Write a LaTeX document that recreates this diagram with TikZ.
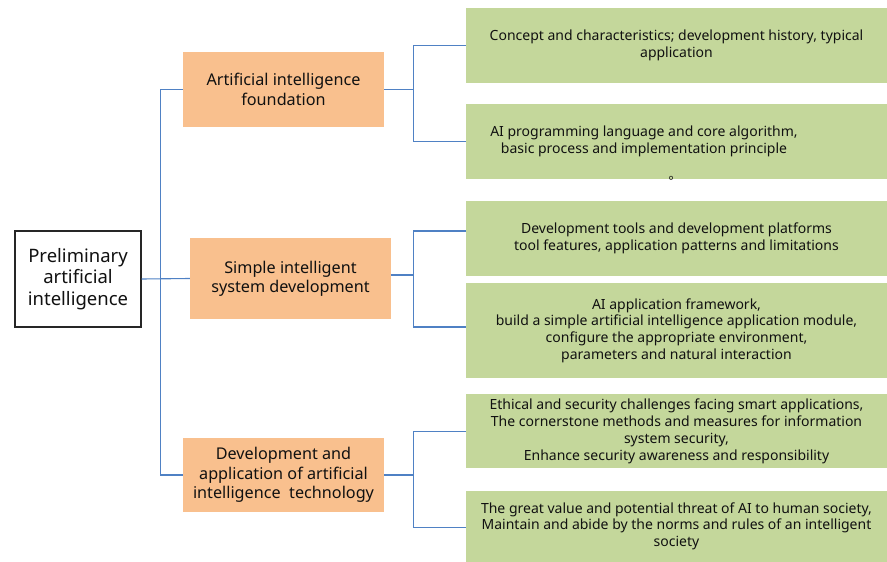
\documentclass[tikz,border=0pt]{standalone}
\usepackage{fontspec}
\setmainfont{Noto Sans}
\newfontfamily\cjk{Noto Sans CJK SC}
\definecolor{orangefill}{HTML}{F9C08E}
\definecolor{greenfill}{HTML}{C4D79B}
\definecolor{linkblue}{HTML}{4F81C4}
\definecolor{txt}{HTML}{111111}
\begin{document}
\begin{tikzpicture}[x=1pt,y=-1pt,
  rootbox/.style={draw=black!85,line width=1.2pt,fill=white,minimum width=126pt,minimum height=96pt,inner sep=0pt,align=center,text=txt,font=\fontsize{18.5}{21.5}\selectfont},
  topicbox/.style={fill=orangefill,minimum width=201pt,inner sep=0pt,align=center,text=txt,font=\fontsize{16.2}{19.3}\selectfont},
  itemfont/.style={font=\fontsize{14}{16.7}\selectfont},
  itembox/.style={fill=greenfill,minimum width=421pt,inner sep=0pt,align=center,text=txt,itemfont},
  conn/.style={draw=linkblue,line width=1.1pt}]
\useasboundingbox (0,0) rectangle (887,562);
% root
\node[rootbox] (root) at (78,279) {Preliminary\\artificial\\intelligence};
% topics
\node[topicbox,minimum height=75pt] (o1) at (283.5,89.5) {Artificial intelligence\\foundation};
\node[topicbox,minimum height=81pt] (o2) at (290.5,278.5) {Simple intelligent\\system development};
\node[topicbox,minimum height=74pt] (o3) at (283.5,475) {Development and\\application of artificial\\intelligence\ \ technology};
% items
\node[itembox,minimum height=74.7pt] (gA) at (676.5,45.3) {Concept and characteristics; development history, typical\\application};
\node[itembox,minimum height=74.7pt] (gB) at (676.5,141.3) {};
\node[align=center,text=txt,itemfont,inner sep=0pt] (gBtext) at (644,141.5) {AI programming language and core algorithm,\\basic process and implementation principle};
\node[text=txt,font=\cjk\fontsize{13}{14}\selectfont,inner sep=0pt] (gBmark) at (675,178) {。};
\node[itembox,minimum height=74.7pt] (gC) at (676.5,238.3) {Development tools and development platforms\\tool features, application patterns and limitations};
\node[itembox,minimum height=95pt] (gD) at (676.5,330.5) {AI application framework,\\build a simple artificial intelligence application module,\\configure the appropriate environment,\\parameters and natural interaction};
\node[itembox,minimum height=74pt] (gE) at (676.5,431.3) {Ethical and security challenges facing smart applications,\\The cornerstone methods and measures for information\\system security,\\Enhance security awareness and responsibility};
\node[itembox,minimum height=70.7pt] (gF) at (676.5,526.3) {The great value and potential threat of AI to human society,\\Maintain and abide by the norms and rules of an intelligent\\society};
% root connectors
\coordinate (rj) at (160.7,279);
\draw[conn] (root.east) -- (o2.west);
\draw[conn] (o1.west) -- (o1.west -| rj) -- (o3.west -| rj) -- (o3.west);
% topic 1
\coordinate (j1) at (413.3,89.5);
\draw[conn] (o1.east) -- (j1);
\draw[conn] (gA.west) -- (gA.west -| j1) -- (gB.west -| j1) -- (gB.west);
% topic 2
\coordinate (j2) at (413.3,275);
\coordinate (c2a) at (466,231);
\coordinate (c2b) at (466,327);
\draw[conn] ([yshift=3.5pt]o2.east) -- (j2);
\draw[conn] (c2a) -- (c2a -| j2) -- (c2b -| j2) -- (c2b);
% topic 3
\coordinate (j3) at (413.3,475);
\coordinate (c3b) at (466,527.7);
\draw[conn] (o3.east) -- (j3);
\draw[conn] (gE.west) -- (gE.west -| j3) -- (c3b -| j3) -- (c3b);
\end{tikzpicture}
\end{document}
